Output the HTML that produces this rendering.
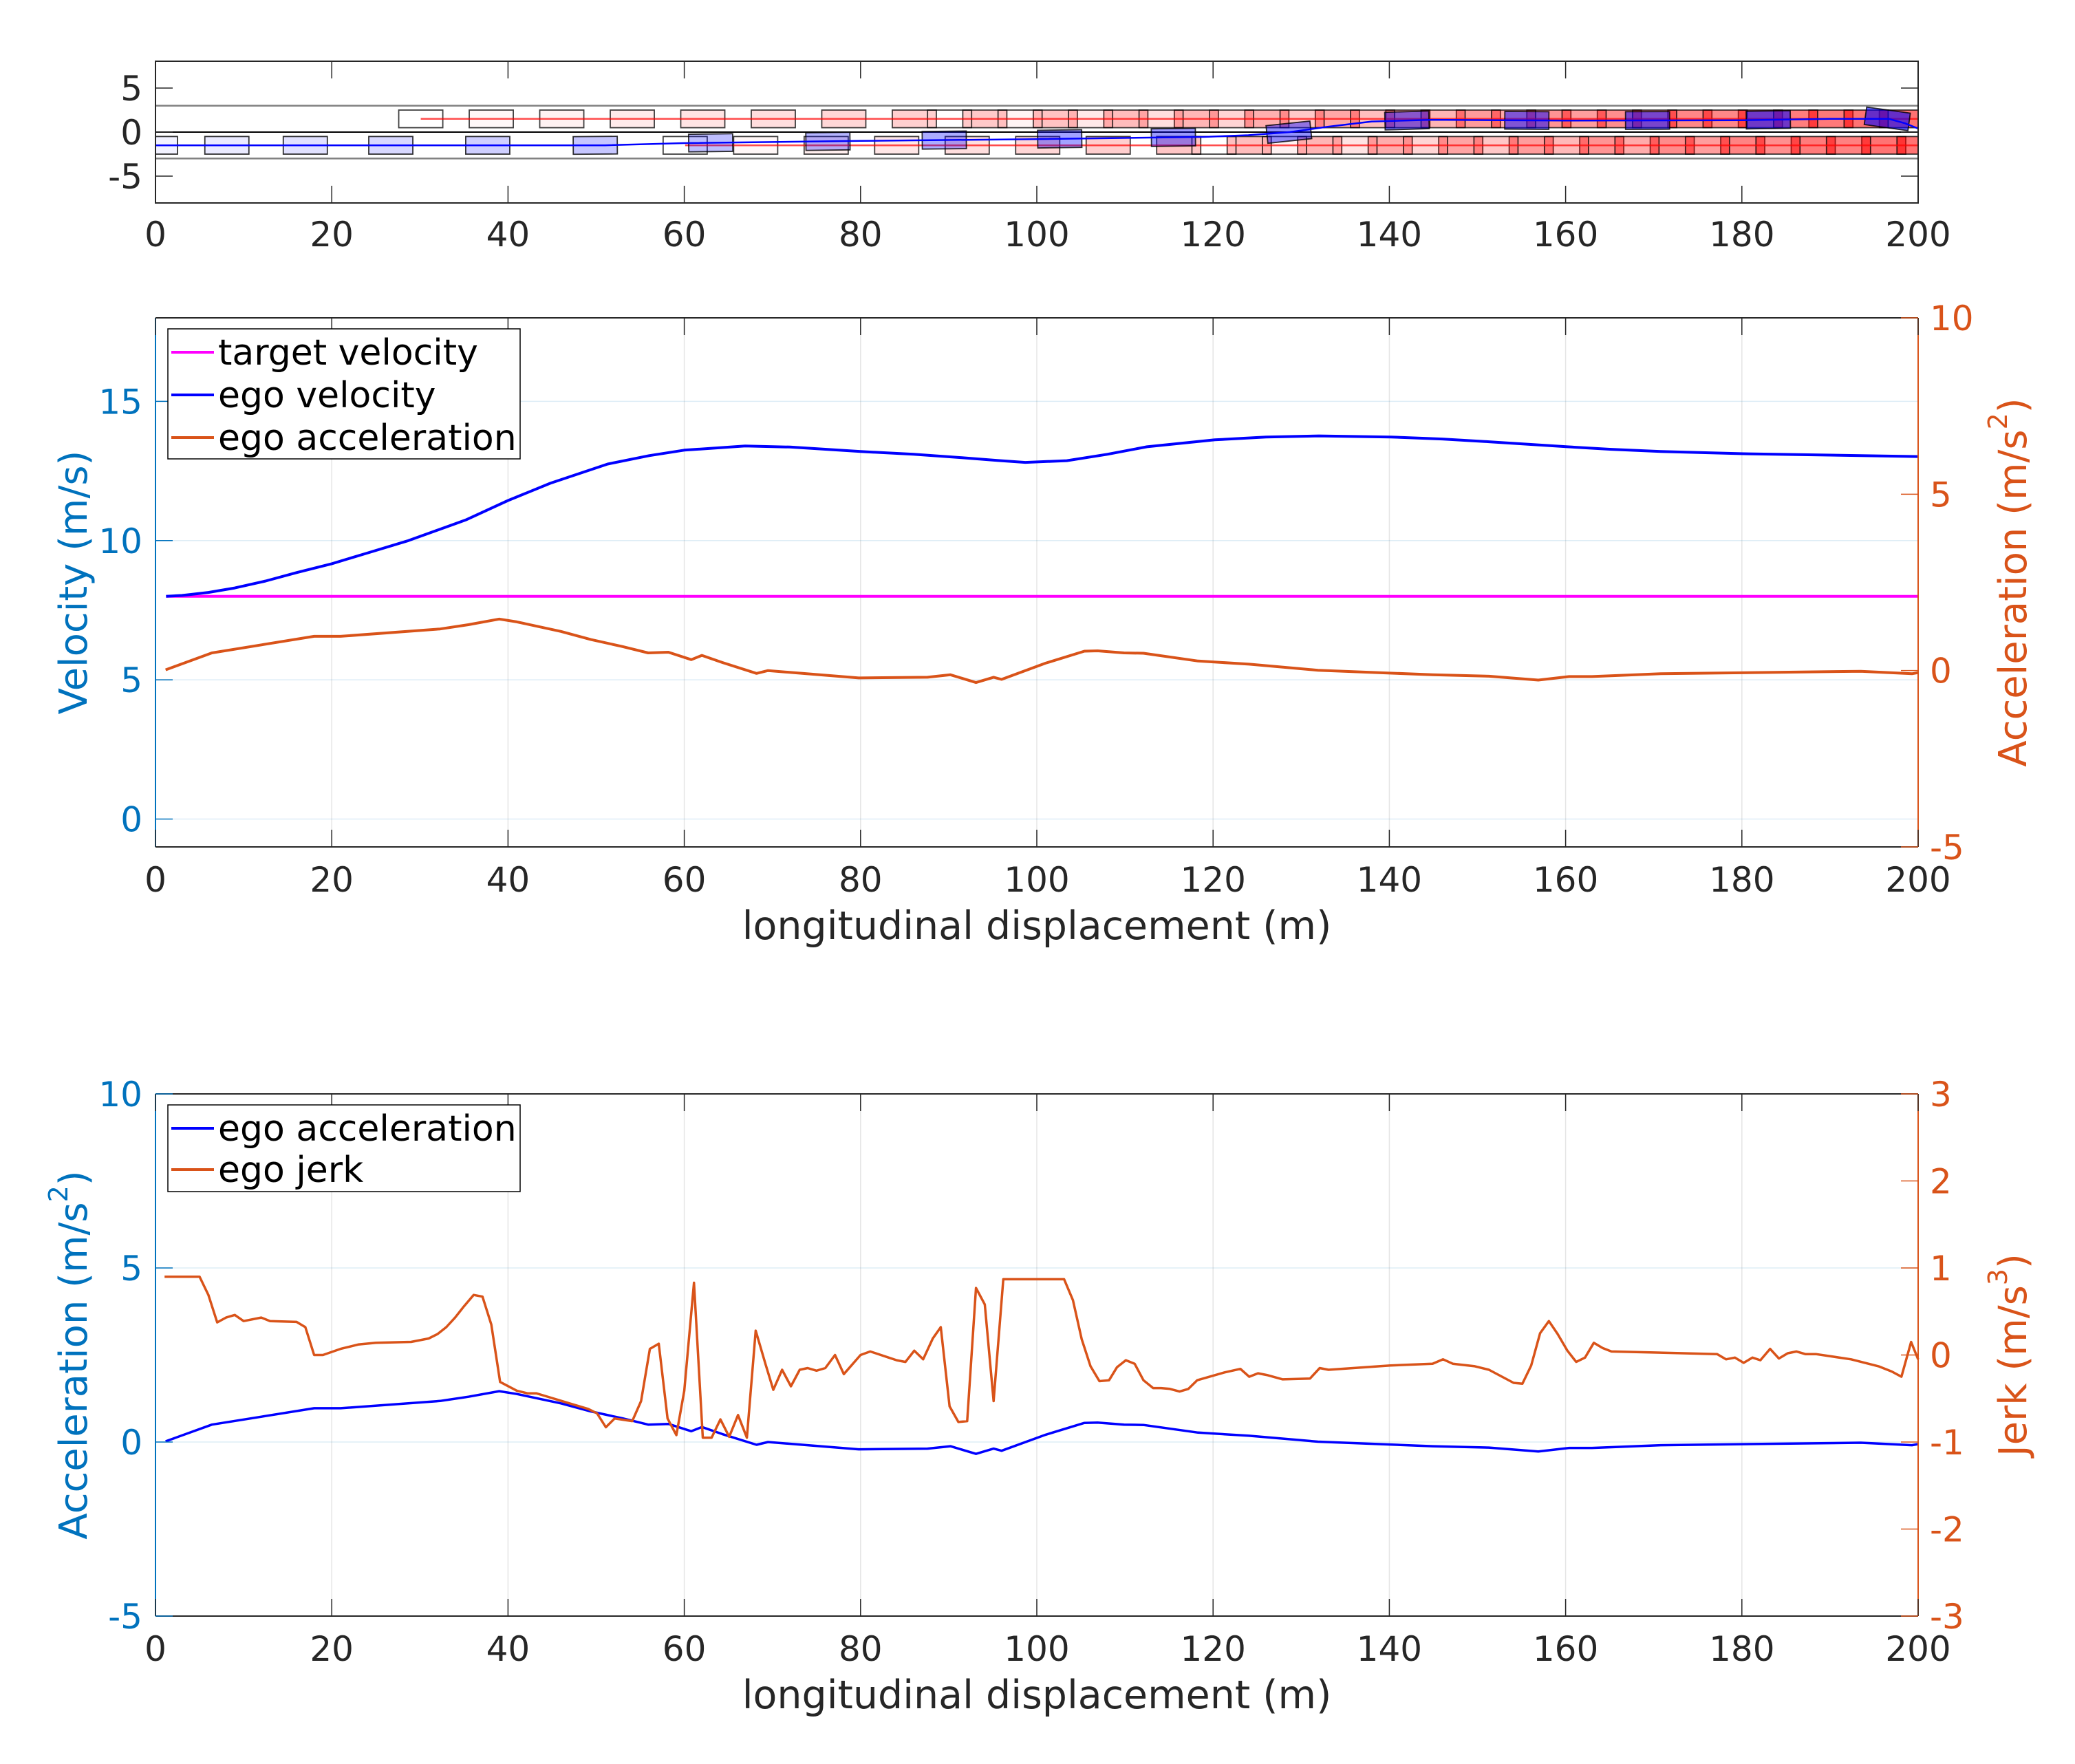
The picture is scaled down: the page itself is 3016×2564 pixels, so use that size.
<!DOCTYPE html>
<html><head><meta charset="utf-8"><title>Ego trajectory chart</title>
<style>
html,body{margin:0;padding:0;background:#fff;}
svg{display:block;font-family:"DejaVu Sans","Liberation Sans",sans-serif;}
</style></head>
<body>
<svg id="fig" width="3016" height="2564" viewBox="0 0 3016 2564" xmlns="http://www.w3.org/2000/svg"></svg>
<script>
// ---------- data ----------
const xTicks = [0,20,40,60,80,100,120,140,160,180,200];
const velTicks = [0,5,10,15];
const accRightTicks = [-5,0,5,10];
const accLeftTicks = [-5,0,5,10];
const jerkTicks = [-3,-2,-1,0,1,2,3];
const laneTicks = [-5,0,5];
const targetVelocity = 8;

const velX = [1.2,3,6,9,12.5,16,20,24,28.7,35.2,40,44.8,51.3,56,60,66.9,72,80,86,91.5,95.5,98.7,103.4,108,112.5,120.2,126,132,140.2,146,151.3,160.2,165,170.8,180.2,190,200];
const velY = [8.0,8.03,8.14,8.3,8.55,8.85,9.17,9.55,10.0,10.74,11.44,12.06,12.75,13.05,13.25,13.4,13.36,13.2,13.1,12.98,12.88,12.81,12.87,13.1,13.37,13.62,13.72,13.76,13.72,13.65,13.55,13.37,13.28,13.2,13.12,13.07,13.02];

const accX = [1.15,6.4,18,21,32.3,35.5,39,41,46,49.4,53,55.9,58.2,60.8,62,64.3,68.2,69.5,73.4,79.8,87.6,90.2,93.1,95.1,96,101,105.4,106.9,109.9,112.1,118.3,124.1,131.9,144.9,151.3,156.9,160.4,163,170.8,183.8,193.5,199.3,200];
const accY = [0.02,0.5,0.97,0.97,1.18,1.3,1.46,1.38,1.11,0.88,0.68,0.5,0.52,0.31,0.43,0.23,-0.08,0.0,-0.08,-0.21,-0.19,-0.12,-0.34,-0.19,-0.25,0.21,0.55,0.56,0.5,0.49,0.27,0.18,0.01,-0.12,-0.16,-0.27,-0.17,-0.17,-0.09,-0.05,-0.02,-0.09,-0.06];

const jerkX = [1.03,5,6,7,8,9,10,12,13,16,17,18,19,21,23,25,29,31,32,33,34,35,36.1,37.1,38.1,39.1,41,42.2,43.2,44.2,47.1,49.1,50.1,51.1,52.1,54.1,55.1,56.1,57.1,58.1,59.1,60,61.1,62.1,63.1,64.1,65.1,66.1,67.1,68.1,69.2,70.1,71.1,72.1,73.1,74,75,76,77.1,78.1,80,81.1,83.2,84.1,85.1,86.1,87.1,88.2,89.1,90.1,91.1,92.1,93.1,94.1,95.1,96.2,103.1,104.1,105.1,106.1,107.1,108.2,109.1,110.1,111.1,112.1,113.2,114.1,115.1,116.2,117.2,118.2,121.3,123.1,124.1,125.1,126.1,127.9,131,132.1,133.1,140.1,144.9,146.1,147.2,149.7,151.3,154.1,155.1,156.1,157.1,158.1,159.1,160.2,161.2,162.2,163.2,164.2,165.2,177.2,178.2,179.2,180.2,181.2,182.1,183.2,184.2,185.2,186.2,187.2,188.4,192.4,195.5,197,198.1,199.2,200];
const jerkY = [0.9,0.9,0.69,0.375,0.43,0.46,0.39,0.43,0.39,0.38,0.32,0,0,0.07,0.12,0.14,0.15,0.19,0.24,0.32,0.43,0.56,0.69,0.67,0.35,-0.31,-0.41,-0.44,-0.44,-0.47,-0.56,-0.62,-0.67,-0.83,-0.73,-0.76,-0.53,0.07,0.13,-0.73,-0.92,-0.41,0.83,-0.95,-0.95,-0.74,-0.94,-0.69,-0.95,0.28,-0.1,-0.4,-0.17,-0.36,-0.17,-0.15,-0.18,-0.15,0,-0.22,0,0.04,-0.03,-0.06,-0.08,0.05,-0.05,0.19,0.32,-0.59,-0.77,-0.76,0.77,0.58,-0.53,0.87,0.87,0.63,0.18,-0.13,-0.3,-0.29,-0.14,-0.06,-0.1,-0.29,-0.38,-0.38,-0.39,-0.42,-0.39,-0.29,-0.2,-0.16,-0.25,-0.21,-0.23,-0.28,-0.27,-0.15,-0.17,-0.12,-0.1,-0.05,-0.1,-0.13,-0.17,-0.32,-0.33,-0.12,0.25,0.39,0.24,0.05,-0.08,-0.03,0.14,0.08,0.04,0.01,-0.05,-0.03,-0.09,-0.03,-0.06,0.07,-0.04,0.02,0.04,0.01,0.01,-0.05,-0.13,-0.19,-0.25,0.15,-0.05];

// top scenario plot
const egoPathX = [0,51,60,80,100,119,124,128.7,133,138,144.8,160,180,190,196.7,198.5,200];
const egoPathY = [-1.5,-1.5,-1.25,-1.0,-0.8,-0.55,-0.35,0,0.6,1.2,1.4,1.3,1.35,1.5,1.5,1.0,0.4];
const egoBoxX = [0,8.1,17,26.7,37.7,49.9,63,76.3,89.5,102.6,115.5,128.6,142,155.6,169.3,183,196.5];
const upperCar1X = [30.1,38.1,46.1,54.1,62.1,70.1,78.1,86.1,94.1,102.1,110.1,118.1,126.1,134.1,142.1,150.1,158.1,166.1,174.1,182.1,190.1,198.1];
const upperCar2X = [90.1,98.1,106.1,114.1,122.1,130.1,138.1,146.1,154.1,162.1,170.1,178.1,186.1,194.1];
const lowerCar1X = [60.1,68.1,76.1,84.1,92.1,100.1,108.1,116.1,124.1,132.1,140.1,148.1,156.1,164.1,172.1,180.1,188.1,196.1];
const lowerCar2X = [120.1,128.1,136.1,144.1,152.1,160.1,168.1,176.1,184.1,192.1,200.1];
const upperLaneY = 1.5;
const lowerLaneY = -1.5;

// ---------- helpers ----------
const NS = "http://www.w3.org/2000/svg";
const svg = document.getElementById('fig');
const L = 226, R = 2788;
const X = m => L + m * (R - L) / 200;
const FS = 50;
const TXT = '#262626', BLUE = '#0072BD', ORANGE = '#D95319';

function mk(tag, attrs, name, parent) {
  const el = document.createElementNS(NS, tag);
  for (const k in attrs) el.setAttribute(k, attrs[k]);
  
  
  (parent || svg).appendChild(el);
  return el;
}
function txt(x, y, s, attrs, name) {
  const el = mk('text', Object.assign({x: x, y: y}, attrs), name);
  el.textContent = s;
  return el;
}
function poly(xs, ys, fx, fy, color, w, name) {
  const pts = xs.map((v, i) => fx(v).toFixed(1) + ',' + fy(ys[i]).toFixed(1)).join(' ');
  return mk('polyline', {points: pts, fill: 'none', stroke: color, 'stroke-width': w, 'stroke-linejoin': 'round'}, name);
}
function xAxis(top, bot, grid, labelY, prefix) {
  xTicks.forEach(t => {
    const x = X(t);
    mk('line', {x1: x, y1: bot, x2: x, y2: bot - 25, stroke: TXT, 'stroke-width': 1.5}, prefix + '-x-tick-' + t);
    mk('line', {x1: x, y1: top, x2: x, y2: top + 25, stroke: TXT, 'stroke-width': 1.5}, prefix + '-x-tick-top-' + t);
    txt(x, labelY, String(t), {'font-size': FS, fill: TXT, 'text-anchor': 'middle'}, prefix + '-x-tick-label-' + t);
  });
}
function yTicks(ticks, fy, side, color, prefix) {
  ticks.forEach(t => {
    const y = fy(t);
    if (side === 'left') {
      mk('line', {x1: L, y1: y, x2: L + 25, y2: y, stroke: color, 'stroke-width': 1.5}, prefix + '-left-tick-' + t);
      txt(207, y + 18, String(t), {'font-size': FS, fill: color, 'text-anchor': 'end'}, prefix + '-left-tick-label-' + t);
    } else {
      mk('line', {x1: R, y1: y, x2: R - 25, y2: y, stroke: color, 'stroke-width': 1.5}, prefix + '-right-tick-' + t);
      txt(2805, y + 18, String(t), {'font-size': FS, fill: color, 'text-anchor': 'start'}, prefix + '-right-tick-label-' + t);
    }
  });
}
function rotLabel(cx, cy, main, unit, sup, color, name) {
  const el = mk('text', {x: 0, y: 0, transform: 'translate(' + cx + ',' + cy + ') rotate(-90)', 'font-size': 56, fill: color, 'text-anchor': 'middle', 'dominant-baseline': 'central'}, name);
  const a = document.createElementNS(NS, 'tspan'); a.textContent = main + ' (' + unit; el.appendChild(a);
  if (sup) {
    const s = document.createElementNS(NS, 'tspan'); s.setAttribute('baseline-shift', 'super'); s.setAttribute('font-size', 38); s.textContent = sup; el.appendChild(s);
  }
  const c = document.createElementNS(NS, 'tspan'); c.textContent = ')'; el.appendChild(c);
  return el;
}

// ---------- top scenario plot ----------
(function () {
  const T = 89, B = 295, C = 192, S = (R - L) / 200;
  const Yt = v => C - v * S;
  mk('rect', {x: L, y: T, width: R - L, height: B - T, fill: '#fff'}, 'scenario-plot-area');
  mk('line', {x1: L, y1: Yt(3), x2: R, y2: Yt(3), stroke: '#808080', 'stroke-width': 2.5}, 'lane-boundary-upper');
  mk('line', {x1: L, y1: Yt(-3), x2: R, y2: Yt(-3), stroke: '#808080', 'stroke-width': 2.5}, 'lane-boundary-lower');
  mk('line', {x1: L, y1: Yt(0), x2: R, y2: Yt(0), stroke: '#000', 'stroke-width': 2}, 'lane-center-divider');
  const defs = mk('defs', {}, 'defs');
  const cp = mk('clipPath', {id: 'clipTop'}, 'clip-top', defs);
  mk('rect', {x: L, y: T, width: R - L, height: B - T}, 'clip-rect', cp);
  const g = mk('g', {'clip-path': 'url(#clipTop)'}, 'vehicles-group');
  function carSeq(xs, yc, name) {
    xs.forEach((cx, i) => {
      const a = xs.length > 1 ? 0.55 * i / (xs.length - 1) : 0;
      mk('rect', {x: X(cx - 2.5), y: Yt(yc + 1), width: 5 * S, height: 2 * S, fill: 'rgba(255,0,0,' + a.toFixed(3) + ')', stroke: 'rgba(0,0,0,0.75)', 'stroke-width': 1.8}, name + '-' + i, g);
    });
  }
  carSeq(upperCar1X, upperLaneY, 'upper-car-a-box');
  carSeq(upperCar2X, upperLaneY, 'upper-car-b-box');
  carSeq(lowerCar1X, lowerLaneY, 'lower-car-a-box');
  carSeq(lowerCar2X, lowerLaneY, 'lower-car-b-box');
  mk('line', {x1: X(upperCar1X[0]), y1: Yt(upperLaneY), x2: R, y2: Yt(upperLaneY), stroke: 'rgba(255,0,0,0.7)', 'stroke-width': 2.5}, 'upper-car-path', g);
  mk('line', {x1: X(lowerCar1X[0]), y1: Yt(lowerLaneY), x2: R, y2: Yt(lowerLaneY), stroke: 'rgba(255,0,0,0.7)', 'stroke-width': 2.5}, 'lower-car-path', g);
  function interp(m) {
    for (let i = 0; i < egoPathX.length - 1; i++) {
      if (m <= egoPathX[i + 1]) {
        const f = (m - egoPathX[i]) / (egoPathX[i + 1] - egoPathX[i]);
        return egoPathY[i] + f * (egoPathY[i + 1] - egoPathY[i]);
      }
    }
    return egoPathY[egoPathY.length - 1];
  }
  egoBoxX.forEach((cx, i) => {
    const cy = interp(cx);
    const slope = (interp(Math.min(cx + 2.5, 200)) - interp(Math.max(cx - 2.5, 0))) / 5;
    const ang = -Math.atan(slope) * 180 / Math.PI;
    const a = 0.05 + 0.55 * i / (egoBoxX.length - 1);
    mk('rect', {x: X(cx - 2.5), y: Yt(cy + 1), width: 5 * S, height: 2 * S, fill: 'rgba(0,0,255,' + a.toFixed(3) + ')', stroke: 'rgba(0,0,0,0.8)', 'stroke-width': 1.8, transform: 'rotate(' + ang.toFixed(2) + ' ' + X(cx).toFixed(1) + ' ' + Yt(cy).toFixed(1) + ')'}, 'ego-box-' + i, g);
  });
  const pth = poly(egoPathX, egoPathY, X, Yt, '#0000FF', 2.5, 'ego-path');
  g.appendChild(pth);
  mk('rect', {x: L, y: T, width: R - L, height: B - T, fill: 'none', stroke: TXT, 'stroke-width': 2}, 'scenario-axes-box');
  xAxis(T, B, false, 358, 'scenario');
  laneTicks.forEach(t => {
    mk('line', {x1: L, y1: Yt(t), x2: L + 25, y2: Yt(t), stroke: TXT, 'stroke-width': 1.5}, 'scenario-y-tick-' + t);
    mk('line', {x1: R, y1: Yt(t), x2: R - 25, y2: Yt(t), stroke: TXT, 'stroke-width': 1.5}, 'scenario-y-tick-right-' + t);
    txt(207, Yt(t) + 18, String(t), {'font-size': FS, fill: TXT, 'text-anchor': 'end'}, 'scenario-y-tick-label-' + t);
  });
})();

// ---------- middle velocity / acceleration plot ----------
(function () {
  const T = 462, B = 1231;
  const Yv = v => B - (v + 1) * (B - T) / 19;
  const Ya = a => B - (a + 5) * (B - T) / 15;
  xTicks.forEach(t => mk('line', {x1: X(t), y1: T, x2: X(t), y2: B, stroke: 'rgba(38,38,38,0.12)', 'stroke-width': 1.5}, 'velocity-x-grid-' + t));
  velTicks.forEach(t => mk('line', {x1: L, y1: Yv(t), x2: R, y2: Yv(t), stroke: 'rgba(0,114,189,0.13)', 'stroke-width': 1.5}, 'velocity-y-grid-' + t));
  mk('line', {x1: X(velX[0]), y1: Yv(targetVelocity), x2: R, y2: Yv(targetVelocity), stroke: '#FF00FF', 'stroke-width': 4}, 'target-velocity-line');
  poly(velX, velY, X, Yv, '#0000FF', 4, 'ego-velocity-line');
  poly(accX, accY, X, Ya, ORANGE, 4, 'ego-acceleration-line');
  mk('line', {x1: L, y1: T, x2: R, y2: T, stroke: TXT, 'stroke-width': 2}, 'velocity-top-axis');
  mk('line', {x1: L, y1: B, x2: R, y2: B, stroke: TXT, 'stroke-width': 2}, 'velocity-x-axis');
  mk('line', {x1: L, y1: T, x2: L, y2: B, stroke: BLUE, 'stroke-width': 2}, 'velocity-left-axis');
  mk('line', {x1: R, y1: T, x2: R, y2: B, stroke: ORANGE, 'stroke-width': 2}, 'velocity-right-axis');
  xAxis(T, B, false, 1296, 'velocity');
  yTicks(velTicks, Yv, 'left', BLUE, 'velocity');
  yTicks(accRightTicks, Ya, 'right', ORANGE, 'velocity-acc');
  txt(1507, 1365, 'longitudinal displacement (m)', {'font-size': 57, fill: TXT, 'text-anchor': 'middle'}, 'velocity-x-axis-title');
  rotLabel(107, (T + B) / 2, 'Velocity', 'm/s', '', BLUE, 'velocity-y-axis-title');
  rotLabel(2926, (T + B) / 2, 'Acceleration', 'm/s', '2', ORANGE, 'acceleration-right-axis-title');
  mk('rect', {x: 244, y: 478, width: 512, height: 189, fill: '#fff', stroke: '#000', 'stroke-width': 1.5}, 'velocity-legend-box');
  const items = [['target velocity', '#FF00FF'], ['ego velocity', '#0000FF'], ['ego acceleration', ORANGE]];
  items.forEach((it, i) => {
    const cy = 512 + i * 62;
    mk('line', {x1: 249, y1: cy, x2: 311, y2: cy, stroke: it[1], 'stroke-width': 4}, 'velocity-legend-swatch-' + i);
    txt(317, cy + 18, it[0], {'font-size': 52, fill: '#000'}, 'velocity-legend-entry-' + i);
  });
})();

// ---------- bottom acceleration / jerk plot ----------
(function () {
  const T = 1590, B = 2349;
  const Yb = a => B - (a + 5) * (B - T) / 15;
  const Yj = j => B - (j + 3) * (B - T) / 6;
  xTicks.forEach(t => mk('line', {x1: X(t), y1: T, x2: X(t), y2: B, stroke: 'rgba(38,38,38,0.12)', 'stroke-width': 1.5}, 'jerk-x-grid-' + t));
  accLeftTicks.forEach(t => mk('line', {x1: L, y1: Yb(t), x2: R, y2: Yb(t), stroke: 'rgba(0,114,189,0.13)', 'stroke-width': 1.5}, 'jerk-y-grid-' + t));
  poly(accX, accY, X, Yb, '#0000FF', 3.5, 'bottom-ego-acceleration-line');
  poly(jerkX, jerkY, X, Yj, ORANGE, 3.5, 'ego-jerk-line');
  mk('line', {x1: L, y1: T, x2: R, y2: T, stroke: TXT, 'stroke-width': 2}, 'jerk-top-axis');
  mk('line', {x1: L, y1: B, x2: R, y2: B, stroke: TXT, 'stroke-width': 2}, 'jerk-x-axis');
  mk('line', {x1: L, y1: T, x2: L, y2: B, stroke: BLUE, 'stroke-width': 2}, 'jerk-left-axis');
  mk('line', {x1: R, y1: T, x2: R, y2: B, stroke: ORANGE, 'stroke-width': 2}, 'jerk-right-axis');
  xAxis(T, B, false, 2414, 'jerk');
  yTicks(accLeftTicks, Yb, 'left', BLUE, 'jerk-acc');
  yTicks(jerkTicks, Yj, 'right', ORANGE, 'jerk');
  txt(1507, 2483, 'longitudinal displacement (m)', {'font-size': 57, fill: TXT, 'text-anchor': 'middle'}, 'jerk-x-axis-title');
  rotLabel(107, (T + B) / 2, 'Acceleration', 'm/s', '2', BLUE, 'jerk-left-axis-title');
  rotLabel(2926, (T + B) / 2, 'Jerk', 'm/s', '3', ORANGE, 'jerk-right-axis-title');
  mk('rect', {x: 244, y: 1606, width: 512, height: 126, fill: '#fff', stroke: '#000', 'stroke-width': 1.5}, 'jerk-legend-box');
  const items = [['ego acceleration', '#0000FF'], ['ego jerk', ORANGE]];
  items.forEach((it, i) => {
    const cy = 1640 + i * 60;
    mk('line', {x1: 249, y1: cy, x2: 311, y2: cy, stroke: it[1], 'stroke-width': 4}, 'jerk-legend-swatch-' + i);
    txt(317, cy + 18, it[0], {'font-size': 52, fill: '#000'}, 'jerk-legend-entry-' + i);
  });
})();
</script>
</body></html>
